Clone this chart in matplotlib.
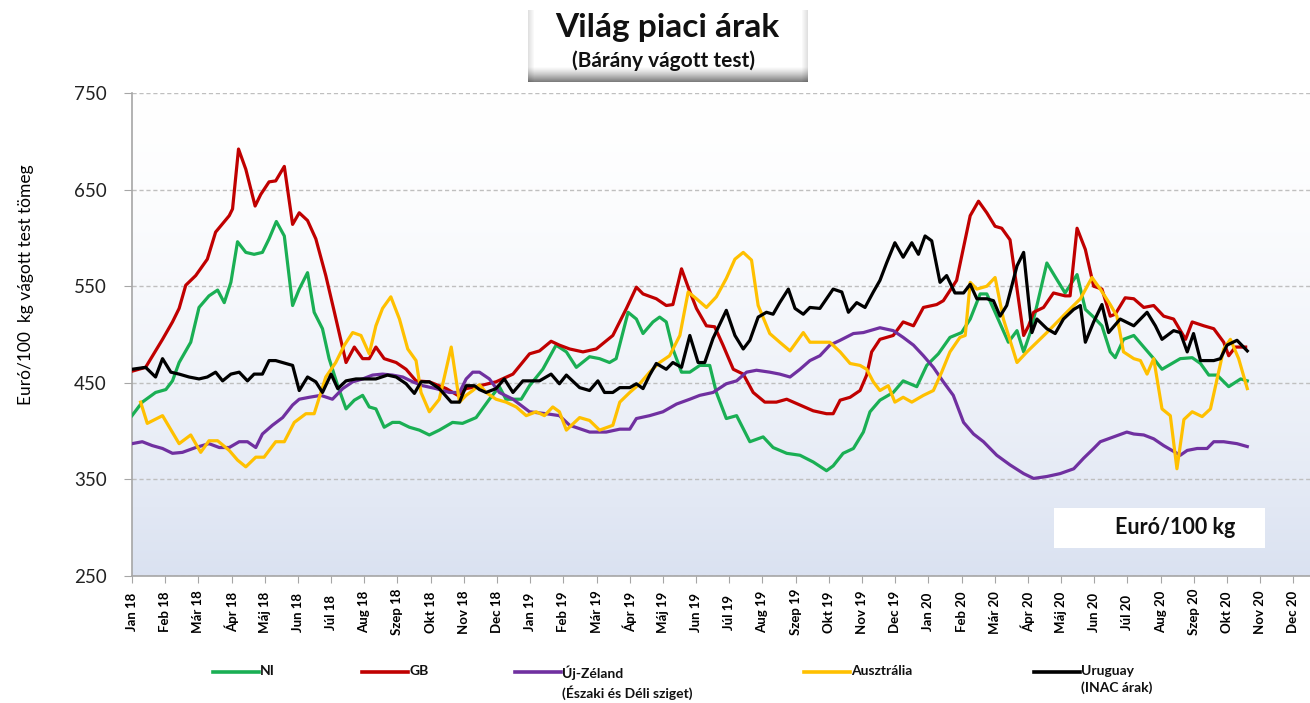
import numpy as np
import matplotlib
matplotlib.use("Agg")
import matplotlib.pyplot as plt
from matplotlib.lines import Line2D
from matplotlib.patches import Rectangle

plt.rcParams['font.family'] = ['Lato', 'DejaVu Sans']

# havi tengely: 0 = Jan 18, 1 = Feb 18, ...
month_names = ["Jan", "Feb", "Már", "Ápr", "Máj", "Jun", "Júl", "Aug", "Szep", "Okt", "Nov", "Dec"]
years = ["18", "19", "20"]
tick_labels = [f"{m} {y}" for y in years for m in month_names]

# (hónap, euró/100 kg) párok
ni = [(0, 416), (0.31, 430), (0.71, 440), (1.02, 443), (1.22, 452), (1.42, 471), (1.77, 492),
      (2.02, 528), (2.32, 540), (2.58, 546), (2.78, 533), (2.98, 554), (3.18, 596), (3.43, 585),
      (3.68, 583), (3.93, 585), (4.13, 599), (4.35, 617), (4.59, 602), (4.84, 530), (5.04, 547),
      (5.29, 564), (5.49, 523), (5.74, 506), (5.94, 475), (6.20, 447), (6.45, 423), (6.70, 432),
      (6.95, 437), (7.15, 425), (7.35, 423), (7.60, 404), (7.85, 409), (8.06, 409), (8.36, 404),
      (8.66, 401), (8.96, 396), (9.26, 401), (9.66, 409), (9.96, 408), (10.37, 414), (10.77, 433),
      (11.07, 446), (11.27, 433), (11.73, 433), (11.98, 447), (12.38, 464), (12.78, 489),
      (13.09, 482), (13.39, 466), (13.79, 477), (14.09, 475), (14.39, 471), (14.59, 475),
      (14.95, 523), (15.20, 516), (15.40, 501), (15.70, 513), (15.90, 518), (16.10, 513),
      (16.30, 485), (16.56, 461), (16.81, 461), (17.11, 468), (17.41, 468), (17.61, 440),
      (17.91, 413), (18.22, 416), (18.62, 389), (19.02, 394), (19.32, 383), (19.73, 377),
      (20.13, 375), (20.53, 368), (20.93, 359), (21.13, 364), (21.43, 377), (21.74, 382),
      (22.04, 399), (22.24, 420), (22.54, 432), (22.94, 440), (23.24, 452), (23.65, 446),
      (23.95, 468), (24.30, 480), (24.65, 497), (25.00, 502), (25.26, 516), (25.56, 542),
      (25.76, 542), (26.01, 523), (26.41, 492), (26.67, 504), (26.87, 482), (27.07, 502),
      (27.27, 530), (27.57, 574), (27.87, 557), (28.12, 543), (28.48, 562), (28.73, 526),
      (28.98, 518), (29.23, 509), (29.48, 482), (29.63, 476), (29.88, 495), (30.19, 499),
      (30.54, 485), (30.79, 475), (31.04, 464), (31.34, 470), (31.59, 475), (31.95, 476),
      (32.20, 470), (32.45, 458), (32.70, 458), (33.05, 446), (33.41, 454), (33.61, 452)]

gb = [(0, 462), (0.41, 466), (0.92, 495), (1.22, 513), (1.42, 527), (1.62, 551), (1.92, 561),
      (2.27, 578), (2.52, 606), (2.93, 623), (3.03, 630), (3.21, 692), (3.43, 671), (3.71, 633),
      (3.88, 645), (4.13, 658), (4.33, 659), (4.59, 674), (4.84, 614), (5.04, 626), (5.29, 618),
      (5.54, 599), (5.84, 561), (6.10, 523), (6.45, 471), (6.70, 487), (6.95, 475), (7.15, 475),
      (7.35, 487), (7.60, 475), (7.96, 471), (8.26, 464), (8.56, 452), (8.96, 451), (9.47, 444),
      (9.82, 437), (10.07, 444), (10.37, 446), (10.97, 451), (11.48, 459), (11.98, 480),
      (12.28, 483), (12.63, 493), (12.88, 489), (13.19, 485), (13.59, 482), (13.99, 485),
      (14.49, 499), (14.90, 527), (15.20, 549), (15.40, 542), (15.80, 537), (16.10, 530),
      (16.30, 531), (16.56, 568), (16.76, 549), (17.01, 527), (17.31, 509), (17.56, 508),
      (17.81, 489), (18.12, 464), (18.42, 459), (18.72, 440), (19.07, 430), (19.42, 430),
      (19.73, 433), (20.13, 427), (20.53, 421), (20.93, 418), (21.13, 418), (21.34, 432),
      (21.64, 435), (21.94, 442), (22.14, 458), (22.29, 482), (22.54, 495), (22.94, 499),
      (23.24, 513), (23.55, 509), (23.85, 528), (24.25, 531), (24.45, 535), (24.85, 556),
      (25.26, 623), (25.51, 638), (25.76, 626), (26.01, 612), (26.21, 610), (26.46, 598),
      (26.87, 499), (27.02, 509), (27.17, 523), (27.47, 528), (27.77, 543), (28.12, 540),
      (28.27, 540), (28.48, 610), (28.73, 588), (28.98, 550), (29.23, 547), (29.48, 519),
      (29.63, 521), (29.93, 538), (30.19, 537), (30.49, 528), (30.79, 530), (31.09, 519),
      (31.39, 516), (31.75, 495), (31.95, 513), (32.30, 509), (32.60, 506), (32.90, 492),
      (33.05, 478), (33.25, 487), (33.56, 487)]

nz = [(0, 387), (0.31, 389), (0.61, 385), (0.92, 382), (1.22, 377), (1.52, 378), (1.92, 383),
      (2.32, 387), (2.63, 383), (2.93, 383), (3.23, 389), (3.48, 389), (3.73, 383), (3.93, 397),
      (4.23, 406), (4.54, 414), (4.84, 427), (5.04, 433), (5.34, 435), (5.69, 437), (6.04, 433),
      (6.35, 444), (6.65, 451), (6.95, 454), (7.25, 458), (7.55, 459), (7.85, 458), (8.16, 456),
      (8.46, 451), (8.76, 447), (9.16, 444), (9.56, 440), (9.87, 440), (10.07, 454), (10.27, 461),
      (10.47, 461), (10.77, 454), (11.07, 440), (11.48, 433), (11.98, 420), (12.48, 418),
      (12.88, 416), (13.19, 406), (13.79, 399), (14.29, 399), (14.70, 402), (15.00, 402),
      (15.20, 413), (15.60, 416), (16.00, 420), (16.41, 428), (16.81, 433), (17.11, 437),
      (17.51, 440), (17.91, 449), (18.22, 452), (18.52, 461), (18.82, 463), (19.22, 461),
      (19.52, 459), (19.83, 456), (20.13, 464), (20.43, 473), (20.73, 478), (21.03, 489),
      (21.34, 494), (21.74, 501), (22.04, 502), (22.54, 507), (22.94, 504), (23.24, 497),
      (23.55, 489), (23.85, 478), (24.15, 466), (24.45, 451), (24.75, 437), (25.06, 409),
      (25.36, 397), (25.66, 389), (26.06, 375), (26.46, 365), (26.87, 356), (27.17, 351),
      (27.57, 353), (27.97, 356), (28.38, 361), (28.68, 372), (28.98, 382), (29.18, 389),
      (29.58, 394), (29.98, 399), (30.19, 397), (30.49, 396), (30.79, 392), (31.09, 385),
      (31.39, 379), (31.59, 375), (31.80, 380), (32.10, 382), (32.40, 382), (32.60, 389),
      (32.90, 389), (33.30, 387), (33.61, 384)]

au = [(0.26, 430), (0.46, 408), (0.92, 416), (1.42, 387), (1.77, 396), (2.07, 378), (2.32, 390),
      (2.58, 390), (2.93, 380), (3.18, 370), (3.43, 363), (3.73, 373), (3.98, 373), (4.33, 389),
      (4.59, 389), (4.89, 409), (5.24, 418), (5.49, 418), (5.84, 456), (6.14, 471), (6.40, 489),
      (6.65, 502), (6.90, 499), (7.15, 480), (7.35, 509), (7.55, 527), (7.80, 539), (8.06, 516),
      (8.31, 485), (8.56, 473), (8.71, 440), (8.96, 420), (9.26, 433), (9.62, 487), (9.87, 430),
      (10.07, 437), (10.27, 442), (10.47, 448), (10.67, 440), (10.97, 433), (11.27, 430),
      (11.58, 425), (11.88, 416), (12.18, 420), (12.43, 416), (12.68, 425), (12.88, 420),
      (13.09, 401), (13.49, 414), (13.79, 411), (14.09, 401), (14.49, 406), (14.70, 430),
      (15.00, 440), (15.30, 449), (15.60, 461), (15.90, 471), (16.20, 478), (16.51, 499),
      (16.76, 544), (17.01, 537), (17.31, 528), (17.61, 539), (17.91, 558), (18.17, 578),
      (18.42, 585), (18.67, 577), (18.87, 530), (19.22, 501), (19.52, 492), (19.83, 483),
      (20.23, 502), (20.43, 492), (21.03, 492), (21.34, 482), (21.64, 470), (21.94, 468),
      (22.14, 464), (22.34, 451), (22.54, 442), (22.79, 447), (22.99, 430), (23.24, 435),
      (23.50, 430), (23.85, 437), (24.15, 442), (24.40, 461), (24.65, 482), (24.95, 497),
      (25.11, 499), (25.26, 554), (25.46, 547), (25.76, 550), (26.01, 559), (26.26, 516),
      (26.67, 471), (26.97, 482), (27.57, 502), (28.17, 523), (28.58, 537), (28.93, 559),
      (29.18, 547), (29.48, 531), (29.68, 519), (29.88, 482), (30.19, 475), (30.39, 473),
      (30.59, 459), (30.79, 475), (31.04, 423), (31.29, 416), (31.49, 361), (31.70, 412),
      (31.95, 420), (32.25, 415), (32.50, 423), (32.70, 454), (32.90, 485), (33.10, 495),
      (33.35, 475), (33.61, 444)]

uy = [(0, 464), (0.41, 466), (0.71, 456), (0.92, 475), (1.17, 461), (1.42, 459), (1.72, 456),
      (2.02, 454), (2.27, 456), (2.52, 461), (2.73, 452), (2.98, 459), (3.23, 461), (3.48, 452),
      (3.68, 459), (3.93, 459), (4.13, 473), (4.33, 473), (4.64, 470), (4.84, 468), (5.04, 442),
      (5.29, 456), (5.54, 451), (5.74, 440), (6.00, 459), (6.20, 444), (6.45, 452), (6.75, 454),
      (7.05, 454), (7.35, 454), (7.70, 458), (7.96, 456), (8.26, 449), (8.51, 439), (8.71, 451),
      (8.96, 451), (9.26, 444), (9.62, 430), (9.87, 430), (10.07, 447), (10.32, 447),
      (10.47, 443), (10.67, 440), (10.97, 444), (11.22, 454), (11.48, 440), (11.78, 452),
      (12.28, 452), (12.63, 459), (12.88, 449), (13.09, 458), (13.49, 445), (13.79, 442),
      (14.04, 452), (14.24, 440), (14.49, 440), (14.70, 445), (15.00, 445), (15.20, 449),
      (15.40, 444), (15.60, 458), (15.80, 470), (16.10, 464), (16.30, 471), (16.56, 466),
      (16.81, 499), (17.06, 471), (17.26, 471), (17.51, 496), (17.91, 525), (18.17, 499),
      (18.42, 485), (18.62, 494), (18.87, 518), (19.12, 523), (19.32, 521), (19.52, 533),
      (19.78, 547), (19.98, 527), (20.23, 521), (20.43, 528), (20.73, 527), (21.13, 547),
      (21.39, 544), (21.59, 523), (21.84, 533), (22.09, 528), (22.34, 544), (22.54, 556),
      (22.74, 574), (22.99, 595), (23.24, 580), (23.50, 595), (23.70, 583), (23.90, 602),
      (24.10, 597), (24.35, 554), (24.55, 561), (24.80, 543), (25.06, 543), (25.26, 552),
      (25.46, 537), (25.76, 537), (25.96, 535), (26.16, 519), (26.36, 530), (26.67, 571),
      (26.87, 585), (27.12, 502), (27.27, 516), (27.57, 506), (27.82, 501), (28.07, 516),
      (28.38, 526), (28.58, 530), (28.73, 492), (28.98, 513), (29.23, 531), (29.43, 502),
      (29.78, 516), (30.19, 509), (30.59, 523), (30.84, 509), (31.04, 495), (31.39, 504),
      (31.59, 502), (31.80, 482), (31.99, 501), (32.20, 473), (32.60, 473), (32.80, 475),
      (33.00, 489), (33.30, 494), (33.61, 483)]

series = [
    (ni, "NI", "#1aaf54"),
    (gb, "GB", "#c00000"),
    (nz, "Új-Zéland\n(Északi és Déli sziget)", "#7030a0"),
    (au, "Ausztrália", "#ffc000"),
    (uy, "Uruguay\n(INAC árak)", "#000000"),
]

W, H = 1310, 703
fig = plt.figure(figsize=(W / 100, H / 100), dpi=100)

def fx(px):
    return px / W

def fy(py):
    return 1 - py / H

ax = fig.add_axes([fx(132), fy(576), fx(1310 - 132), (576 - 93) / H])
ax.set_xlim(0, 35.5)
ax.set_ylim(250, 750)

# háttér színátmenet (fehér -> halványkék)
t = np.linspace(0, 1, 256) ** 1.6
top = np.array([1.0, 1.0, 1.0])
bot = np.array([0.855, 0.885, 0.945])
grad = (top[None, :] * (1 - t[:, None]) + bot[None, :] * t[:, None])[:, None, :]
ax.imshow(grad, extent=[0, 35.5, 250, 750], aspect='auto', zorder=0, origin='upper')

ax.set_yticks(range(250, 751, 100))
ax.yaxis.grid(True, linestyle=(0, (3, 2)), color='#bfbfbf', linewidth=1.0, zorder=1)
ax.set_axisbelow(True)
for s in ['top', 'right']:
    ax.spines[s].set_visible(False)
for s in ['left', 'bottom']:
    ax.spines[s].set_color('#a6a6a6')
    ax.spines[s].set_linewidth(1.2)

for pts, label, color in series:
    xs = [p[0] for p in pts]
    ys = [p[1] for p in pts]
    ax.plot(xs, ys, color=color, lw=2.3, solid_joinstyle='round', zorder=3)

ax.set_xticks(range(36))
ax.set_xticklabels(tick_labels, rotation=90, fontsize=9.5, fontweight='bold')
ax.tick_params(axis='x', direction='out', length=5, color='#a6a6a6', pad=21)
for lbl in ax.get_xticklabels():
    lbl.set_va('center')
ax.tick_params(axis='y', direction='out', length=6, color='#a6a6a6', pad=12,
               labelsize=13.5, labelcolor='#222222')

fig.text(fx(26), fy(285), "Euró/100  kg vágott test tömeg", rotation=90,
         ha='center', va='center', fontsize=12.5)

# Euró/100 kg doboz
fig.add_artist(Rectangle((fx(1054), fy(548)), fx(1265 - 1054), (548 - 508) / H,
                         transform=fig.transFigure, facecolor='white', edgecolor='none', zorder=4))
fig.text(fx(1175), fy(528), "Euró/100 kg", ha='center', va='center',
         fontsize=15.5, fontweight='bold', color='#111111', zorder=5)

# cím doboz
bx0, bx1, by0, by1 = 528, 808, 10, 82
tax = fig.add_axes([fx(bx0), fy(by1), fx(bx1 - bx0), (by1 - by0) / H])
tax.set_axis_off()
hh, ww = 72, 280
img = np.ones((hh, ww, 3))
band = np.clip((np.arange(hh) - 56) / 16, 0, 1)
img *= (1 - 0.55 * band ** 1.3)[:, None, None]
edge = np.clip(1 - np.minimum(np.arange(ww), ww - 1 - np.arange(ww)) / 6, 0, 1)
img *= (1 - 0.12 * edge)[None, :, None]
tax.imshow(img, aspect='auto', extent=[0, 1, 0, 1])
tax.set_xlim(0, 1)
tax.set_ylim(0, 1)
fig.text(fx(667), fy(27), "Világ piaci árak", ha='center', va='center',
         fontsize=24, fontweight='bold', color='#111111')
fig.text(fx(664), fy(61), "(Bárány vágott test)", ha='center', va='center',
         fontsize=15, fontweight='bold', color='#111111')

# jelmagyarázat
leg_x = [213, 362, 515, 804, 1034]
for (pts, label, color), lx in zip(series, leg_x):
    fig.add_artist(Line2D([fx(lx), fx(lx + 46)], [fy(672), fy(672)], color=color, lw=2.6,
                          transform=fig.transFigure))
    fig.text(fx(lx + 47), fy(665), label, ha='left', va='top', fontsize=10,
             fontweight='bold', linespacing=1.45, color='#111111')

fig.savefig("out.png", dpi=100)
